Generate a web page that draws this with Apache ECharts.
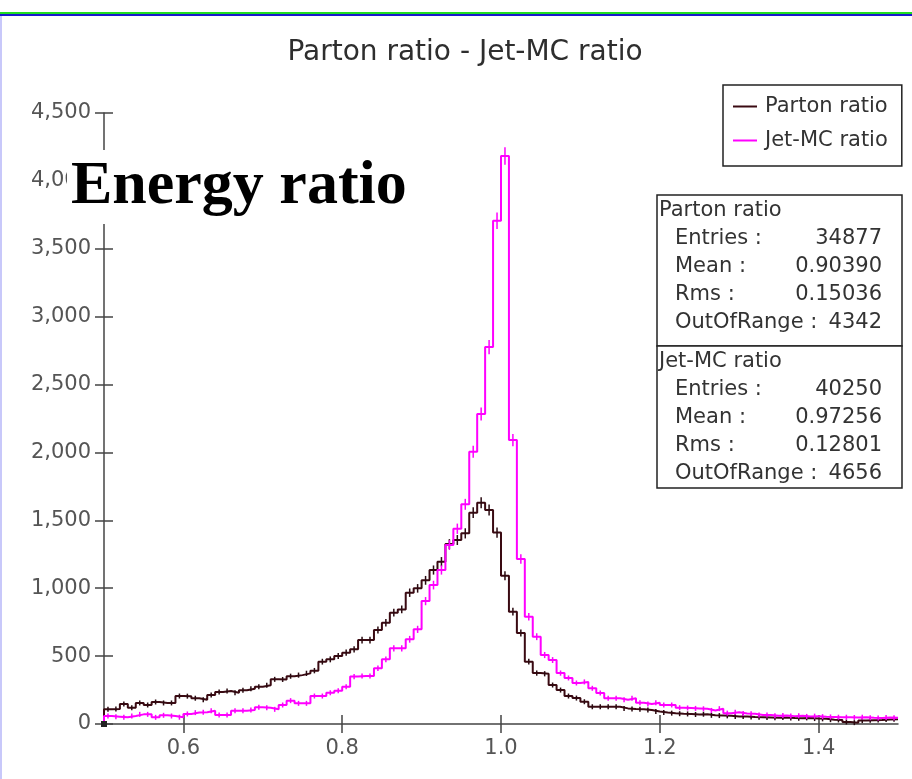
<!DOCTYPE html>
<html><head><meta charset="utf-8">
<script src="https://cdn.jsdelivr.net/npm/echarts@6/dist/echarts.min.js"></script>
<style>html,body{margin:0;padding:0;background:#fff}#c{width:912px;height:779px}</style>
</head><body><div id="c"></div>
<script>
const TITLE = 'Parton ratio - Jet-MC ratio';
const OVERLAY_LABEL = 'Energy ratio';
const SERIES_NAMES = ['Parton ratio', 'Jet-MC ratio'];
const BIN_START = 0.5;
const BIN_WIDTH = 0.01;
const partonCounts = [108,110,147,120,155,140,162,155,155,206, 205,190,178,214,236,243,230,248,260,275,
  285,329,328,352,360,373,393,459,476,501, 525,550,618,618,692,746,820,844,967,999,
  1058,1134,1195,1325,1355,1404,1556,1630,1576,1410, 1092,827,670,459,375,370,287,250,206,191,
  164,127,127,127,127,115,110,108,103,92, 85,80,76,74,70,72,64,62,60,55,
  56,52,50,48,46,48,44,42,45,40, 38,32,30,15,10,25,28,30,33,35];
const jetMcCounts = [59,54,49,59,71,71,49,64,59,50, 74,84,86,98,66,66,98,98,103,123,
  120,108,140,172,152,152,206,206,230,245, 275,349,353,353,410,476,557,557,624,697,
  905,1023,1134,1318,1438,1618,2005,2283,2776,3706, 4183,2091,1215,790,643,508,471,375,339,302,
  310,263,228,189,189,179,189,157,147,157, 140,140,120,118,115,112,100,113,80,86,
  78,76,66,66,60,62,58,60,56,58, 54,52,50,50,48,50,46,44,48,46];
const xTickValues = [0.6, 0.8, 1.0, 1.2, 1.4];
const X_MIN = 0.5, X_MAX = 1.5;
const Y_MIN = 0, Y_MAX = 4500, Y_STEP = 500;
const statLabels = ['Entries :', 'Mean :', 'Rms :', 'OutOfRange :'];
const partonStats = ['34877', '0.90390', '0.15036', '4342'];
const jetMcStats = ['40250', '0.97256', '0.12801', '4656'];

const COLORS = ['#3a0a12', '#ff00ff'];
const FONT = '"DejaVu Sans", sans-serif';
const AXIS_COLOR = '#444';
const LABEL_COLOR = '#555';

function edge(i) { return +(BIN_START + i * BIN_WIDTH).toFixed(4); }
function stepData(counts) {
  const d = [[edge(0), 0]];
  counts.forEach((c, i) => d.push([edge(i), c]));
  d.push([edge(counts.length), counts[counts.length - 1]]);
  return d;
}
function centerData(counts) {
  return counts.map((c, i) => [+(edge(i) + BIN_WIDTH / 2).toFixed(4), c]);
}
function errorSeries(counts, color, z) {
  return {
    type: 'custom', silent: true, z: z,
    data: centerData(counts),
    renderItem(params, api) {
      const x = api.value(0), v = api.value(1), e = Math.sqrt(v);
      const pc = api.coord([x, v]);
      const p1 = api.coord([x, v + e]), p2 = api.coord([x, Math.max(v - e, 0)]);
      const hTop = Math.max(pc[1] - p1[1], 2.5), hBot = Math.max(p2[1] - pc[1], 2.5);
      return { type: 'line', shape: { x1: pc[0], y1: pc[1] - hTop, x2: pc[0], y2: pc[1] + hBot },
        style: { stroke: color, lineWidth: 1.5 } };
    }
  };
}

const chart = echarts.init(document.getElementById('c'), null, { renderer: 'canvas' });

const statGraphics = [];
function statBlock(top, name, values, height) {
  statGraphics.push({ type: 'rect', shape: { x: 657, y: top, width: 245, height: height },
    style: { fill: '#fff', stroke: '#222', lineWidth: 1.5 }, z: 10 });
  statGraphics.push({ type: 'text', x: 659, y: top + 16, z: 11,
    style: { text: name, font: '21px ' + FONT, fill: '#333', align: 'left', verticalAlign: 'middle' } });
  statLabels.forEach((lab, i) => {
    statGraphics.push({ type: 'text', x: 675, y: top + 44 + i * 28, z: 11,
      style: { text: lab, font: '21px ' + FONT, fill: '#333', align: 'left', verticalAlign: 'middle' } });
    statGraphics.push({ type: 'text', x: 882, y: top + 44 + i * 28, z: 11,
      style: { text: values[i], font: '21px ' + FONT, fill: '#333', align: 'right', verticalAlign: 'middle' } });
  });
}
statBlock(195, SERIES_NAMES[0], partonStats, 151);
statBlock(346, SERIES_NAMES[1], jetMcStats, 142);

const option = {
  backgroundColor: '#fff',
  animation: false,
  title: { text: TITLE, left: 460, top: 34, textAlign: 'center',
    textStyle: { fontFamily: FONT, fontSize: 28, fontWeight: 'normal', color: '#2e2e2e' } },
  legend: {
    data: SERIES_NAMES.map((n, i) => ({ name: n, icon: 'rect', itemStyle: { color: COLORS[i] } })),
    orient: 'vertical', left: 723, top: 85,
    itemWidth: 24, itemHeight: 2, itemGap: 13,
    padding: [11, 14, 15, 10],
    borderColor: '#222', borderWidth: 1.5, backgroundColor: '#fff',
    textStyle: { fontFamily: FONT, fontSize: 21, color: '#333', padding: [0, 0, 0, 3] },
    selectedMode: false
  },
  grid: { left: 104, right: 14, top: 113, bottom: 55, containLabel: false },
  xAxis: [
    { type: 'value', min: X_MIN, max: X_MAX,
      axisLine: { show: true, lineStyle: { color: AXIS_COLOR, width: 1.5 } },
      axisTick: { show: true, customValues: xTickValues, length: 9, lineStyle: { color: AXIS_COLOR, width: 1.5 } },
      axisLabel: { customValues: xTickValues, formatter: v => v.toFixed(1), fontFamily: FONT, fontSize: 21, color: LABEL_COLOR, margin: 14 },
      splitLine: { show: false } },
    { type: 'value', min: X_MIN, max: X_MAX, position: 'bottom',
      axisLine: { show: false },
      axisTick: { show: true, inside: true, customValues: xTickValues, length: 9, lineStyle: { color: AXIS_COLOR, width: 1.5 } },
      axisLabel: { show: false }, splitLine: { show: false } }
  ],
  yAxis: [
    { type: 'value', min: Y_MIN, max: Y_MAX, interval: Y_STEP,
      axisLine: { show: true, lineStyle: { color: AXIS_COLOR, width: 1.5 } },
      axisTick: { show: true, length: 9, lineStyle: { color: AXIS_COLOR, width: 1.5 } },
      axisLabel: { formatter: v => v.toLocaleString('en-US'), fontFamily: FONT, fontSize: 21, color: LABEL_COLOR, margin: 13 },
      splitLine: { show: false } },
    { type: 'value', min: Y_MIN, max: Y_MAX, interval: Y_STEP, position: 'left',
      axisLine: { show: false },
      axisTick: { show: true, inside: true, length: 9, lineStyle: { color: AXIS_COLOR, width: 1.5 } },
      axisLabel: { show: false }, splitLine: { show: false } }
  ],
  series: [
    { name: SERIES_NAMES[0], type: 'line', step: 'end', showSymbol: false, z: 2,
      data: stepData(partonCounts), lineStyle: { color: COLORS[0], width: 2 }, itemStyle: { color: COLORS[0] } },
    errorSeries(partonCounts, '#2a0a10', 3),
    { name: SERIES_NAMES[1], type: 'line', step: 'end', showSymbol: false, z: 4,
      data: stepData(jetMcCounts), lineStyle: { color: COLORS[1], width: 2 }, itemStyle: { color: COLORS[1] } },
    errorSeries(jetMcCounts, COLORS[1], 5)
  ],
  graphic: [
    { type: 'rect', shape: { x: 0, y: 12, width: 912, height: 2 }, style: { fill: '#22dd22' }, z: 20 },
    { type: 'rect', shape: { x: 0, y: 14, width: 912, height: 2 }, style: { fill: '#1a1acc' }, z: 20 },
    { type: 'rect', shape: { x: 0, y: 16, width: 2, height: 763 }, style: { fill: '#c8c8fa' }, z: 20 },
    { type: 'rect', shape: { x: 101, y: 721, width: 6, height: 6 }, style: { fill: '#222' }, z: 20 },
    { type: 'text', x: 67, y: 187, z: 15,
      style: { text: OVERLAY_LABEL, font: 'bold 62px "Liberation Serif", serif', fill: '#000',
        align: 'left', verticalAlign: 'middle', backgroundColor: '#fff', padding: [2, 2, 10, 4] } }
  ].concat(statGraphics)
};
chart.setOption(option);
</script>
</body></html>
